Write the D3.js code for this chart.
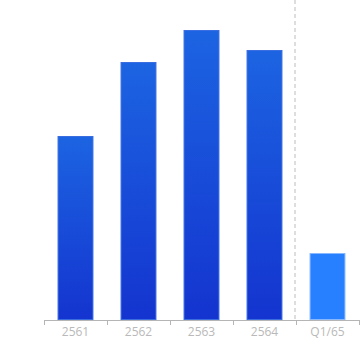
<!DOCTYPE html>
<html>
<head>
<meta charset="utf-8">
<script src="https://cdn.jsdelivr.net/npm/d3@7"></script>
<style>
  body { margin: 0; background: #fff; }
  .axis text { font-family: "Open Sans", sans-serif; font-size: 12px; fill: #b9b9b9; }
</style>
</head>
<body>
<div id="chart"></div>
<script>
const categories = ["2561", "2562", "2563", "2564", "Q1/65"];
const values = [184, 258, 290, 270, 67];
const highlight = ["Q1/65"];

const width = 360, height = 350;
const margin = { top: 0, right: 1, bottom: 30, left: 44 };

const svg = d3.select("#chart").append("svg")
  .attr("width", width)
  .attr("height", height);

const defs = svg.append("defs");
const grad = defs.append("linearGradient")
  .attr("id", "barGrad")
  .attr("x1", 0).attr("y1", 0).attr("x2", 0).attr("y2", 1);
grad.append("stop").attr("offset", "0%").attr("stop-color", "#1c64e2");
grad.append("stop").attr("offset", "100%").attr("stop-color", "#1434cf");

const x = d3.scaleBand()
  .domain(categories)
  .range([margin.left, width - margin.right])
  .paddingInner(0.43)
  .paddingOuter(0.215);

const y = d3.scaleLinear()
  .domain([0, 320])
  .range([height - margin.bottom, margin.top]);

const data = categories.map((c, i) => ({ cat: c, val: values[i] }));

// dashed separator before the quarter bar
const sepX = x("Q1/65") - x.step() * x.paddingInner() / 2 - 1;
svg.append("line")
  .attr("x1", sepX).attr("x2", sepX)
  .attr("y1", 0).attr("y2", y(0))
  .attr("stroke", "#bdbdbd")
  .attr("stroke-width", 1)
  .attr("stroke-dasharray", "4,3");

svg.append("g").selectAll("rect").data(data).enter().append("rect")
  .attr("x", d => x(d.cat) + 0.5)
  .attr("y", d => y(d.val) + 0.5)
  .attr("width", x.bandwidth() - 1)
  .attr("height", d => y(0) - y(d.val) - 1)
  .attr("fill", d => highlight.includes(d.cat) ? "#2680ff" : "url(#barGrad)")
  .attr("stroke", d => highlight.includes(d.cat) ? "#8ab8ff" : "#3a6ee0")
  .attr("stroke-width", 1);

// band edges as ticks
const edges = categories.map(c => x(c) - x.step() * x.paddingOuter());
edges.push(width - margin.right);

const axis = svg.append("g")
  .attr("class", "axis")
  .attr("transform", `translate(0,${y(0)})`);

axis.append("line")
  .attr("x1", margin.left).attr("x2", width - margin.right)
  .attr("y1", 0.5).attr("y2", 0.5)
  .attr("stroke", "#b5b5b5");

axis.selectAll(".edge").data(edges).enter().append("line")
  .attr("class", "edge")
  .attr("x1", d => Math.round(d) + 0.5).attr("x2", d => Math.round(d) + 0.5)
  .attr("y1", 0).attr("y2", 5)
  .attr("stroke", "#b5b5b5");

axis.selectAll("text").data(categories).enter().append("text")
  .attr("x", d => x(d) + x.bandwidth() / 2)
  .attr("y", 16)
  .attr("text-anchor", "middle")
  .text(d => d);
</script>
</body>
</html>
